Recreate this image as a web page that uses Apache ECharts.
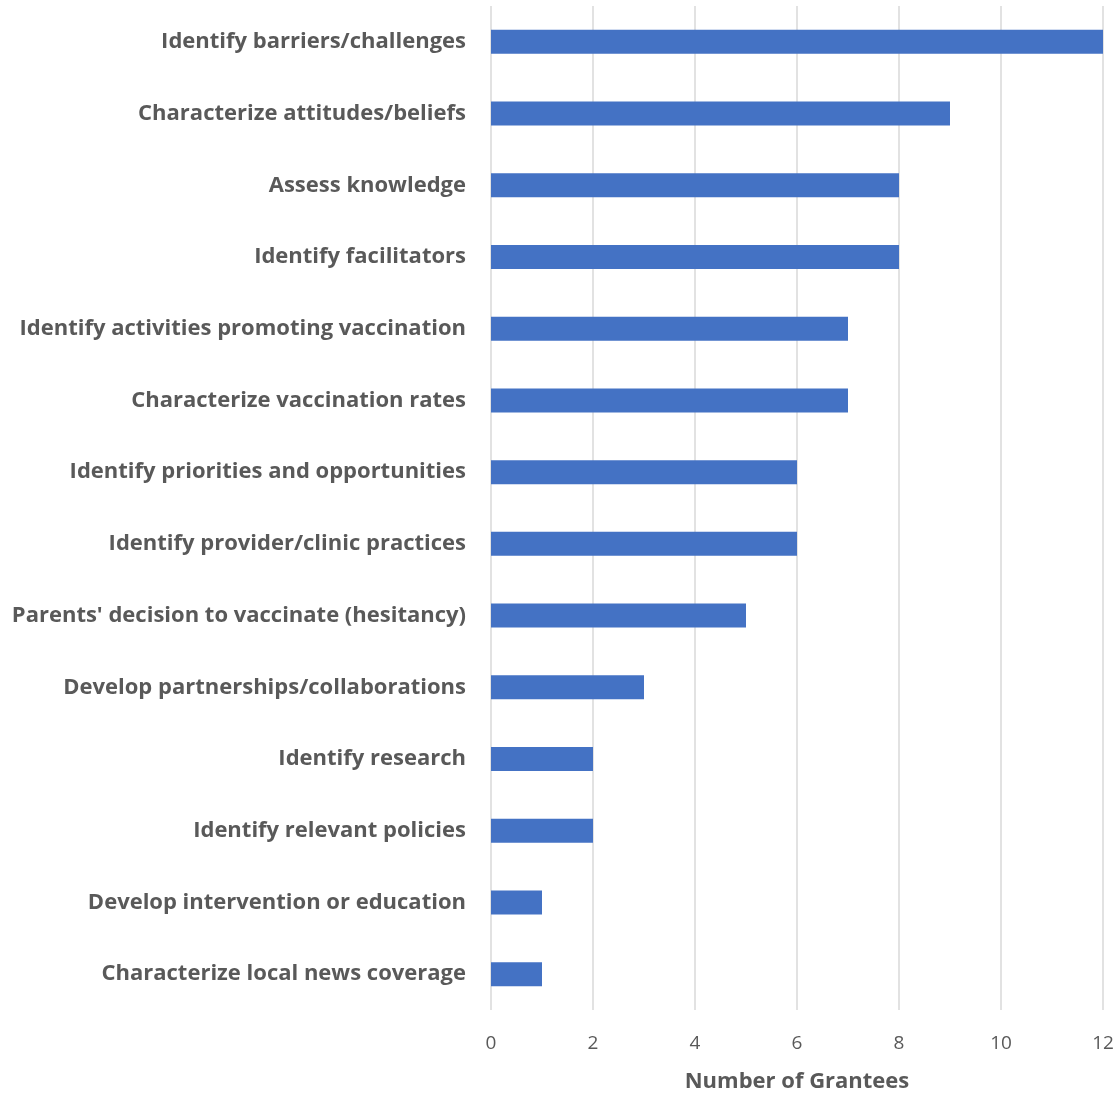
<!DOCTYPE html>
<html>
<head>
    <meta charset="utf-8" />
    <title>Number of Grantees</title>
    <script src="https://cdn.jsdelivr.net/npm/echarts@6/dist/echarts.min.js"></script>
    <style>
        html, body { margin: 0; padding: 0; background: #fff; }
    </style>
</head>
<body>
    <div id="main" style="width: 1119px;height:1094px;"></div>
    <script type="text/javascript">
        // categories, top to bottom
        var categories = [
            "Identify barriers/challenges",
            "Characterize attitudes/beliefs",
            "Assess knowledge",
            "Identify facilitators",
            "Identify activities promoting vaccination",
            "Characterize vaccination rates",
            "Identify priorities and opportunities",
            "Identify provider/clinic practices",
            "Parents' decision to vaccinate (hesitancy)",
            "Develop partnerships/collaborations",
            "Identify research",
            "Identify relevant policies",
            "Develop intervention or education",
            "Characterize local news coverage"
        ];
        var grantees = [12, 9, 8, 8, 7, 7, 6, 6, 5, 3, 2, 2, 1, 1];
        var xTicks = [0, 2, 4, 6, 8, 10, 12];

        var myChart = echarts.init(document.getElementById("main"));
        var textColor = "#595959";

        var option = {
            animation: false,
            grid: {
                left: 491,
                right: 16,
                top: 6,
                bottom: 84,
                containLabel: false,
                outerBoundsMode: "none"
            },
            xAxis: {
                type: "value",
                min: xTicks[0],
                max: xTicks[xTicks.length - 1],
                interval: 2,
                name: "Number of Grantees",
                nameLocation: "middle",
                nameGap: 61,
                nameTextStyle: {
                    fontFamily: "Open Sans",
                    fontWeight: "bold",
                    fontSize: 22,
                    color: textColor
                },
                axisLine: { show: false },
                axisTick: { show: false },
                axisLabel: {
                    fontFamily: "Open Sans",
                    fontSize: 19,
                    color: textColor,
                    margin: 24
                },
                splitLine: {
                    lineStyle: { color: "#d9d9d9", width: 1.5 }
                }
            },
            yAxis: {
                type: "category",
                inverse: true,
                data: categories,
                axisLine: { show: false },
                axisTick: { show: false },
                axisLabel: {
                    fontFamily: "Open Sans",
                    fontWeight: "bold",
                    fontSize: 22,
                    color: textColor,
                    margin: 25
                }
            },
            series: [{
                type: "bar",
                data: grantees,
                barWidth: 24,
                itemStyle: { color: "#4472c4" }
            }]
        };
        myChart.setOption(option);
    </script>
</body>
</html>
